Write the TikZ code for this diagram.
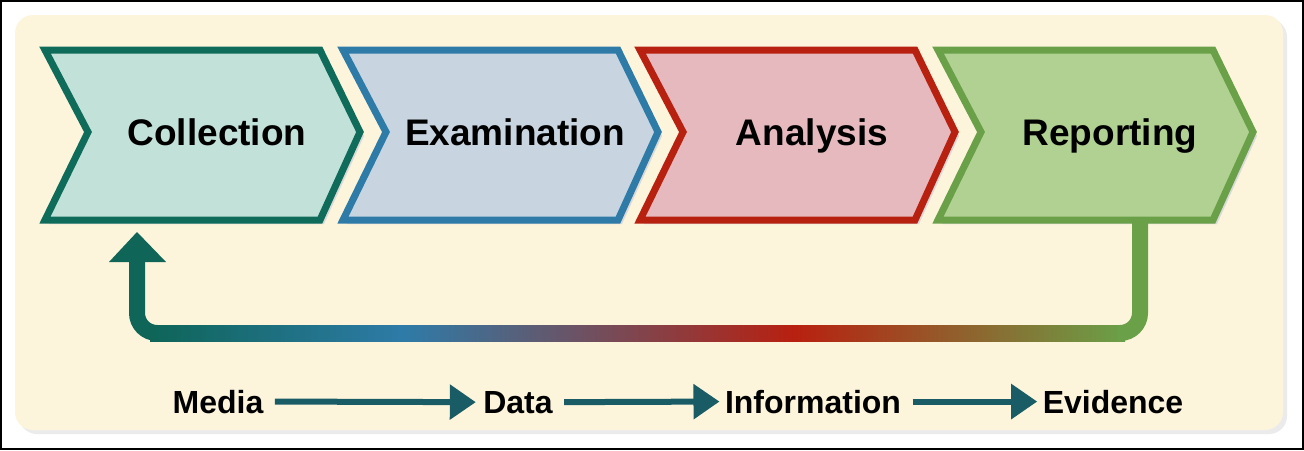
\documentclass[tikz,border=0pt]{standalone}
\usepackage{fontspec}
\setmainfont{Liberation Sans}
\usetikzlibrary{arrows.meta,calc}
\definecolor{cream}{HTML}{FCF5DC}
\definecolor{tealA}{HTML}{0F6B5A}\definecolor{tealF}{HTML}{C2E2D9}
\definecolor{blueA}{HTML}{2E7BA8}\definecolor{blueF}{HTML}{C8D5E1}
\definecolor{redA}{HTML}{B82010}\definecolor{redF}{HTML}{E5B9BD}
\definecolor{greenA}{HTML}{6AA048}\definecolor{greenF}{HTML}{B1D193}
\definecolor{arr}{HTML}{1A5C66}
\definecolor{loopT}{HTML}{0E6558}
\pgfdeclarehorizontalshading{loopshade}{100bp}{color(0bp)=(loopT); color(25bp)=(loopT); color(38bp)=(blueA); color(58bp)=(redA); color(75bp)=(greenA); color(100bp)=(greenA)}
\begin{document}
\begin{tikzpicture}[x=1pt,y=-1pt,
  lbl/.style={font=\bfseries\fontsize{37}{40}\selectfont,anchor=base},
  sml/.style={font=\bfseries\fontsize{32}{36}\selectfont,anchor=base},
  flow/.style={arr,line width=6pt,-{Triangle[length=26pt,width=34pt]}}]
\useasboundingbox (0,0) rectangle (1304,450);
\fill[white] (0,0) rectangle (1304,450);
\draw[black,line width=1.5pt] (1,1) rectangle (1303,449);
\fill[black!8,rounded corners=18pt] (19,19) rectangle (1287,434);
\fill[cream,rounded corners=18pt] (15,15) rectangle (1283,430);
\foreach \x/\f/\s/\t/\n in {45/tealF/tealA/Collection/col,343/blueF/blueA/Examination/exa,640/redF/redA/Analysis/ana,938/greenF/greenA/Reporting/rep}{
  \fill[black!15] (\x+4,54) -- ++(275,0) -- ++(40,82) -- ++(-40,88) -- ++(-275,0) -- ++(43,-88) -- cycle;
  \filldraw[fill=\f,draw=\s,line width=7pt,line join=miter] (\x,50) -- ++(275,0) -- ++(40,82) -- ++(-40,88) -- ++(-275,0) -- ++(43,-88) -- cycle;
  \node[lbl] (\n) at (\x+172,145) {\t};
}
% feedback loop
\fill[shading=loopshade] (150,325) rectangle (1125,341);
\draw[greenA,line width=16pt,rounded corners=20pt] (1140,218) -- (1140,333) -- (1118,333);
\draw[loopT,line width=16pt,rounded corners=20pt] (158,333) -- (137,333) -- (137,255);
\fill[loopT] (109,262) -- (137,232) -- (166,262) -- cycle;
% bottom
\node[sml] (med) at (218,413) {Media};
\node[sml] (dat) at (518,413) {Data};
\node[sml] (inf) at (813,413) {Information};
\node[sml] (evi) at (1113,413) {Evidence};
\draw[flow] ($(med.east)+(8pt,0)$) -- ($(dat.west)+(-4pt,0)$);
\draw[flow] ($(dat.east)+(8pt,0)$) -- ($(inf.west)+(-2pt,0)$);
\draw[flow] ($(inf.east)+(8pt,0)$) -- ($(evi.west)+(-2pt,0)$);
\end{tikzpicture}
\end{document}
